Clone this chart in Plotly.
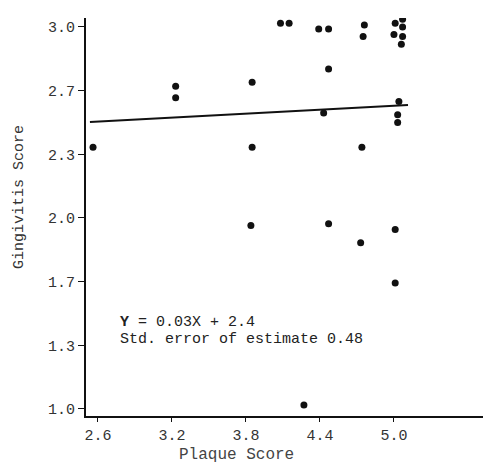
import plotly.graph_objects as go

# Observed data points (plaque score, gingivitis score)
plaque = [2.56, 3.23, 3.23, 3.85, 3.85, 3.84, 4.08, 4.15, 4.39, 4.47, 4.47, 4.43,
          4.76, 4.75, 5.01, 5.07, 5.07, 5.00, 5.07, 5.06, 5.04, 5.03, 5.03,
          4.74, 4.47, 4.73, 5.01, 5.01, 4.27]
gingivitis = [2.37, 2.69, 2.63, 2.71, 2.37, 1.96, 3.02, 3.02, 2.99, 2.99, 2.78, 2.55,
              3.01, 2.95, 3.02, 3.04, 3.00, 2.96, 2.95, 2.91, 2.61, 2.54, 2.50,
              2.37, 1.97, 1.87, 1.94, 1.66, 1.02]

# Regression line as drawn
line_x = [2.535, 5.114]
line_y = [2.503, 2.592]

# Axis ticks
x_ticks = [2.6, 3.2, 3.8, 4.4, 5.0]
x_tick_labels = ["2.6", "3.2", "3.8", "4.4", "5.0"]
y_ticks = [1.0, 4/3, 5/3, 2.0, 7/3, 8/3, 3.0]
y_tick_labels = ["1.0", "1.3", "1.7", "2.0", "2.3", "2.7", "3.0"]

mono = "Liberation Mono, Courier New, monospace"

fig = go.Figure()
fig.add_trace(go.Scatter(x=line_x, y=line_y, mode="lines",
                         line=dict(color="#111", width=2), showlegend=False))
fig.add_trace(go.Scatter(x=plaque, y=gingivitis, mode="markers",
                         marker=dict(color="#111", size=7), showlegend=False))

fig.add_annotation(x=2.76, y=1.455, xref="x", yref="y", xanchor="left", yanchor="middle",
                   text="<b>Y</b> = 0.03X + 2.4", showarrow=False,
                   font=dict(family=mono, size=15, color="#222"))
fig.add_annotation(x=2.76, y=1.366, xref="x", yref="y", xanchor="left", yanchor="middle",
                   text="Std. error of estimate 0.48", showarrow=False,
                   font=dict(family=mono, size=15, color="#222"))

fig.add_annotation(x=0.38, y=-0.098, xref="paper", yref="paper", xanchor="center", yanchor="middle",
                   text="Plaque Score", showarrow=False,
                   font=dict(family=mono, size=16, color="#444"))
fig.add_annotation(x=-0.169, y=0.55, xref="paper", yref="paper", xanchor="center", yanchor="middle",
                   text="Gingivitis Score", showarrow=False, textangle=-90,
                   font=dict(family=mono, size=15, color="#333"))

fig.update_layout(
    width=483, height=468,
    margin=dict(l=86, r=0, t=18, b=52),
    paper_bgcolor="white", plot_bgcolor="white",
    xaxis=dict(range=[2.503, 5.722], tickvals=x_ticks, ticktext=x_tick_labels,
               showgrid=False, zeroline=False, showline=True, linecolor="#111", linewidth=2,
               ticks="outside", ticklen=4, tickcolor="#111",
               tickfont=dict(family=mono, size=15, color="#333")),
    yaxis=dict(range=[0.963, 3.047], tickvals=y_ticks, ticktext=y_tick_labels,
               showgrid=False, zeroline=False, showline=True, linecolor="#111", linewidth=2,
               ticks="outside", ticklen=6, tickcolor="#111",
               tickfont=dict(family=mono, size=15, color="#333")),
)

fig.write_html("out.html")
